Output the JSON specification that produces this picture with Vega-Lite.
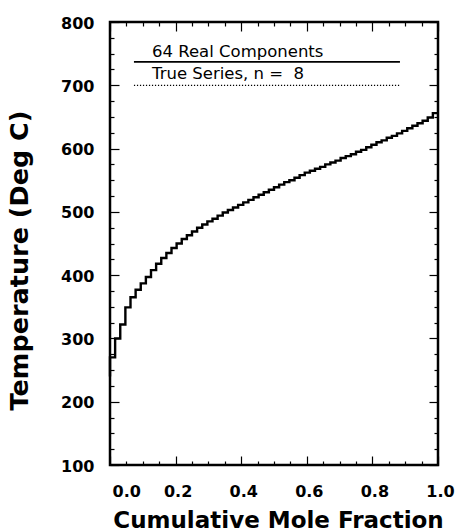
{
  "$schema": "https://vega.github.io/schema/vega-lite/v6.json",
  "width": 328,
  "height": 443,
  "autosize": "none",
  "padding": {"left": 110, "top": 22, "right": 18, "bottom": 66},
  "background": "white",
  "config": {
    "view": {"stroke": "black", "strokeWidth": 2.5},
    "axis": {
      "domain": false, "grid": false, "tickColor": "black", "tickWidth": 1.2,
      "labelFont": "DejaVu Sans", "labelFontWeight": "bold", "labelFontSize": 16, "labelColor": "black",
      "titleFont": "DejaVu Sans", "titleFontWeight": "bold", "titleFontSize": 23, "titleColor": "black"
    }
  },
  "datasets": {
    "curve": [
      {"i": 0, "x": 0, "T": 240},
      {"i": 1, "x": 0, "T": 270}, {"i": 2, "x": 0.015625, "T": 300}, {"i": 3, "x": 0.03125, "T": 322}, {"i": 4, "x": 0.046875, "T": 349},
      {"i": 5, "x": 0.0625, "T": 365}, {"i": 6, "x": 0.078125, "T": 377}, {"i": 7, "x": 0.09375, "T": 387}, {"i": 8, "x": 0.109375, "T": 397},
      {"i": 9, "x": 0.125, "T": 408}, {"i": 10, "x": 0.140625, "T": 418}, {"i": 11, "x": 0.15625, "T": 427}, {"i": 12, "x": 0.171875, "T": 435},
      {"i": 13, "x": 0.1875, "T": 443}, {"i": 14, "x": 0.203125, "T": 450}, {"i": 15, "x": 0.21875, "T": 457}, {"i": 16, "x": 0.234375, "T": 463},
      {"i": 17, "x": 0.25, "T": 469}, {"i": 18, "x": 0.265625, "T": 475}, {"i": 19, "x": 0.28125, "T": 480}, {"i": 20, "x": 0.296875, "T": 485},
      {"i": 21, "x": 0.3125, "T": 489}, {"i": 22, "x": 0.328125, "T": 494}, {"i": 23, "x": 0.34375, "T": 499}, {"i": 24, "x": 0.359375, "T": 503},
      {"i": 25, "x": 0.375, "T": 507}, {"i": 26, "x": 0.390625, "T": 511}, {"i": 27, "x": 0.40625, "T": 515}, {"i": 28, "x": 0.421875, "T": 519},
      {"i": 29, "x": 0.4375, "T": 523}, {"i": 30, "x": 0.453125, "T": 527}, {"i": 31, "x": 0.46875, "T": 531}, {"i": 32, "x": 0.484375, "T": 535},
      {"i": 33, "x": 0.5, "T": 539}, {"i": 34, "x": 0.515625, "T": 543}, {"i": 35, "x": 0.53125, "T": 547}, {"i": 36, "x": 0.546875, "T": 550},
      {"i": 37, "x": 0.5625, "T": 554}, {"i": 38, "x": 0.578125, "T": 558}, {"i": 39, "x": 0.59375, "T": 562}, {"i": 40, "x": 0.609375, "T": 565},
      {"i": 41, "x": 0.625, "T": 568}, {"i": 42, "x": 0.640625, "T": 571}, {"i": 43, "x": 0.65625, "T": 575}, {"i": 44, "x": 0.671875, "T": 578},
      {"i": 45, "x": 0.6875, "T": 581}, {"i": 46, "x": 0.703125, "T": 585}, {"i": 47, "x": 0.71875, "T": 588}, {"i": 48, "x": 0.734375, "T": 591},
      {"i": 49, "x": 0.75, "T": 595}, {"i": 50, "x": 0.765625, "T": 598}, {"i": 51, "x": 0.78125, "T": 602}, {"i": 52, "x": 0.796875, "T": 606},
      {"i": 53, "x": 0.8125, "T": 610}, {"i": 54, "x": 0.828125, "T": 613}, {"i": 55, "x": 0.84375, "T": 617}, {"i": 56, "x": 0.859375, "T": 620},
      {"i": 57, "x": 0.875, "T": 624}, {"i": 58, "x": 0.890625, "T": 628}, {"i": 59, "x": 0.90625, "T": 632}, {"i": 60, "x": 0.921875, "T": 636},
      {"i": 61, "x": 0.9375, "T": 640}, {"i": 62, "x": 0.953125, "T": 644}, {"i": 63, "x": 0.96875, "T": 649}, {"i": 64, "x": 0.984375, "T": 656},
      {"i": 65, "x": 1, "T": 656}
    ],
    "legendLines": [
      {"series": "64 Real Components", "x": 0.073, "x2": 0.884, "y": 737},
      {"series": "True Series, n = 8", "x": 0.073, "x2": 0.884, "y": 700}
    ],
    "legendText": [
      {"label": "64 Real Components", "x": 0.128, "y": 744},
      {"label": "True Series, n = \u00a08", "x": 0.128, "y": 710}
    ]
  },
  "layer": [
    {
      "data": {"name": "curve"},
      "mark": {"type": "line", "interpolate": "step-after", "color": "black", "strokeWidth": 2.4},
      "encoding": {
        "order": {"field": "i", "type": "quantitative"},
        "x": {"field": "x", "type": "quantitative",
          "scale": {"domain": [0, 1], "nice": false, "zero": false},
          "axis": {"orient": "bottom", "values": [0, 0.2, 0.4, 0.6, 0.8, 1], "format": ".1f", "tickSize": -9,
            "labelPadding": 27, "labelOffset": 2,
            "labelAlign": {"expr": "datum.value == 0 ? 'left' : 'center'"},
            "title": "Cumulative Mole Fraction", "titleX": 168, "titleY": 62, "titleBaseline": "alphabetic"}},
        "y": {"field": "T", "type": "quantitative",
          "scale": {"domain": [100, 800], "nice": false, "zero": false},
          "axis": {"orient": "left", "values": [100, 200, 300, 400, 500, 600, 700, 800], "tickSize": -9,
            "labelPadding": 25, "labelOffset": 1,
            "title": "Temperature (Deg C)", "titleFontSize": 25.5, "titleX": -78, "titleY": 238, "titleBaseline": "bottom", "titleAngle": -90}}
      }
    },
    {
      "data": {"name": "curve"},
      "mark": {"type": "line", "strokeOpacity": 0},
      "encoding": {
        "x": {"field": "x", "type": "quantitative", "scale": {"domain": [0, 1], "nice": false, "zero": false},
          "axis": {"orient": "bottom", "values": [0.05, 0.1, 0.15, 0.25, 0.3, 0.35, 0.45, 0.5, 0.55, 0.65, 0.7, 0.75, 0.85, 0.9, 0.95], "tickSize": -4, "labels": false, "title": null}},
        "y": {"field": "T", "type": "quantitative", "scale": {"domain": [100, 800], "nice": false, "zero": false},
          "axis": {"orient": "left", "values": [125, 150, 175, 225, 250, 275, 325, 350, 375, 425, 450, 475, 525, 550, 575, 625, 650, 675, 725, 750, 775], "tickSize": -4, "labels": false, "title": null}}
      }
    },
    {
      "data": {"name": "curve"},
      "mark": {"type": "line", "strokeOpacity": 0},
      "encoding": {
        "x": {"field": "x", "type": "quantitative", "scale": {"domain": [0, 1], "nice": false, "zero": false},
          "axis": {"orient": "top", "values": [0, 0.2, 0.4, 0.6, 0.8, 1], "tickSize": -9, "labels": false, "title": null}},
        "y": {"field": "T", "type": "quantitative", "scale": {"domain": [100, 800], "nice": false, "zero": false},
          "axis": {"orient": "right", "values": [100, 200, 300, 400, 500, 600, 700, 800], "tickSize": -9, "labels": false, "title": null}}
      }
    },
    {
      "data": {"name": "curve"},
      "mark": {"type": "line", "strokeOpacity": 0},
      "encoding": {
        "x": {"field": "x", "type": "quantitative", "scale": {"domain": [0, 1], "nice": false, "zero": false},
          "axis": {"orient": "top", "values": [0.05, 0.1, 0.15, 0.25, 0.3, 0.35, 0.45, 0.5, 0.55, 0.65, 0.7, 0.75, 0.85, 0.9, 0.95], "tickSize": -4, "labels": false, "title": null}},
        "y": {"field": "T", "type": "quantitative", "scale": {"domain": [100, 800], "nice": false, "zero": false},
          "axis": {"orient": "right", "values": [125, 150, 175, 225, 250, 275, 325, 350, 375, 425, 450, 475, 525, 550, 575, 625, 650, 675, 725, 750, 775], "tickSize": -4, "labels": false, "title": null}}
      }
    },
    {
      "data": {"name": "legendLines"},
      "transform": [{"filter": "datum.y > 720"}],
      "mark": {"type": "rule", "color": "black", "strokeWidth": 1.6},
      "encoding": {
        "x": {"field": "x", "type": "quantitative", "axis": null},
        "x2": {"field": "x2"},
        "y": {"field": "y", "type": "quantitative", "axis": null}
      }
    },
    {
      "data": {"name": "legendLines"},
      "transform": [{"filter": "datum.y < 720"}],
      "mark": {"type": "rule", "color": "black", "strokeWidth": 1.3, "strokeDash": [1.2, 1.8]},
      "encoding": {
        "x": {"field": "x", "type": "quantitative", "axis": null},
        "x2": {"field": "x2"},
        "y": {"field": "y", "type": "quantitative", "axis": null}
      }
    },
    {
      "data": {"name": "legendText"},
      "mark": {"type": "text", "align": "left", "baseline": "alphabetic", "font": "DejaVu Sans", "fontSize": 16.5, "color": "black"},
      "encoding": {
        "x": {"field": "x", "type": "quantitative", "axis": null},
        "y": {"field": "y", "type": "quantitative", "axis": null},
        "text": {"field": "label"}
      }
    }
  ],
  "resolve": {"axis": {"x": "independent", "y": "independent"}}
}
